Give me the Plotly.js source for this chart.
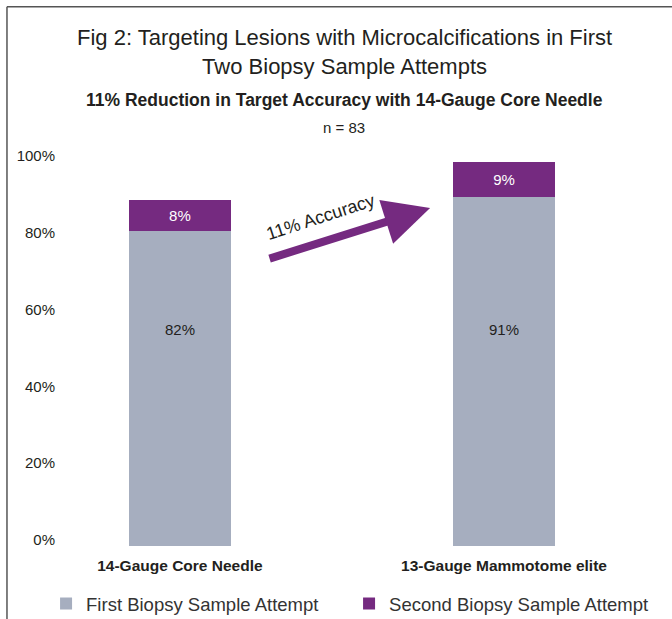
<!DOCTYPE html>
<html>
<head>
<meta charset="utf-8">
<script src="https://cdn.plot.ly/plotly-3.0.1.min.js"></script>
<style>html,body{margin:0;padding:0;background:#fff}#chart{width:672px;height:619px}</style>
</head>
<body>
<div id="chart"></div>
<script>
const categories = ['14-Gauge Core Needle', '13-Gauge Mammotome elite'];
const firstAttempt = [82, 91];
const secondAttempt = [8, 9];
const seriesNames = ['First Biopsy Sample Attempt', 'Second Biopsy Sample Attempt'];
const yTickVals = [0, 20, 40, 60, 80, 100];
const yTickText = ['0%', '20%', '40%', '60%', '80%', '100%'];
const titleText = 'Fig 2: Targeting Lesions with Microcalcifications in First<br>Two Biopsy Sample Attempts';
const subtitleText = '11% Reduction in Target Accuracy with 14-Gauge Core Needle';
const nText = 'n = 83';
const arrowText = '11% Accuracy';

const GRAY = '#A6AEBF';
const PURPLE = '#752A80';
const TXT = '#231F20';
const FONT = 'Liberation Sans, Arial, sans-serif';

const traces = [
  {
    type: 'bar', name: seriesNames[0], x: categories, y: firstAttempt,
    marker: {color: GRAY}, width: 0.315, textposition: 'none', hoverinfo: 'skip'
  },
  {
    type: 'bar', name: seriesNames[1], x: categories, y: secondAttempt,
    marker: {color: PURPLE}, width: 0.315,
    text: secondAttempt.map(v => v + '%'), textposition: 'inside',
    insidetextanchor: 'middle', textfont: {color: '#ffffff', size: 15, family: FONT},
    hoverinfo: 'skip'
  }
];

const annotations = categories.map((c, i) => ({
  x: c, y: 56.5, xref: 'x', yref: 'y', text: firstAttempt[i] + '%',
  showarrow: false, font: {size: 15, color: TXT, family: FONT}
}));

annotations.push({
  xref: 'paper', yref: 'paper', x: 0.469, y: 1.286, yanchor: 'middle', xanchor: 'center', text: titleText,
  showarrow: false, font: {size: 22, color: TXT, family: FONT}
});
annotations.push({
  xref: 'paper', yref: 'paper', x: 0.469, y: 1.161, yanchor: 'middle', xanchor: 'center', text: '<b>' + subtitleText + '</b>',
  showarrow: false, font: {size: 17.5, color: TXT, family: FONT}
});
annotations.push({
  xref: 'paper', yref: 'paper', x: 0.469, y: 1.089, yanchor: 'middle', xanchor: 'center', text: nText,
  showarrow: false, font: {size: 15, color: TXT, family: FONT}
});
// arrow
annotations.push({
  xref: 'x', yref: 'y', x: 0.772, y: 88, ax: -162, ay: 51, text: '',
  showarrow: true, arrowhead: 2, arrowsize: 1.15, arrowwidth: 8, arrowcolor: PURPLE
});
annotations.push({
  xref: 'x', yref: 'y', x: 0.435, y: 85.8, text: arrowText, textangle: -18,
  showarrow: false, font: {size: 18, color: TXT, family: FONT}
});

const layout = {
  width: 672, height: 619,
  margin: {l: 60, r: 6, t: 162, b: 73, autoexpand: false},
  paper_bgcolor: '#ffffff', plot_bgcolor: '#ffffff',
  barmode: 'stack', bargap: 0,
  showlegend: true,
  font: {family: FONT, color: TXT},
  xaxis: {
    type: 'category', range: [-0.37, 1.5], showgrid: false, zeroline: false,
    showline: false, ticks: '', tickfont: {size: 15.5, color: TXT, weight: 'bold', family: FONT},
    ticklabelstandoff: 8, fixedrange: true
  },
  yaxis: {
    range: [0, 100], tickmode: 'array', tickvals: yTickVals, ticktext: yTickText, showgrid: false,
    zeroline: false, showline: false, ticks: '', ticklabelshift: -6, ticklabelstandoff: 4,
    tickfont: {size: 15, color: TXT, family: FONT}, fixedrange: true
  },
  legend: {
    orientation: 'h', x: -0.023, xanchor: 'left', y: -0.151, yanchor: 'middle',
    font: {size: 18.5, color: '#333333', family: FONT}, traceorder: 'normal',
    entrywidth: 258, entrywidthmode: 'pixels'
  },
  annotations: annotations,
  shapes: [
    {type: 'line', xref: 'paper', yref: 'paper', x0: -0.0875, x1: -0.0875, y0: 1.404, y1: -0.2, line: {color: '#555555', width: 1.5}},
    {type: 'line', xref: 'paper', yref: 'paper', x0: -0.0875, x1: 1.02, y0: 1.404, y1: 1.404, line: {color: '#555555', width: 1.5}}
  ]
};

Plotly.newPlot('chart', traces, layout, {displayModeBar: false, staticPlot: true});
</script>
</body>
</html>
